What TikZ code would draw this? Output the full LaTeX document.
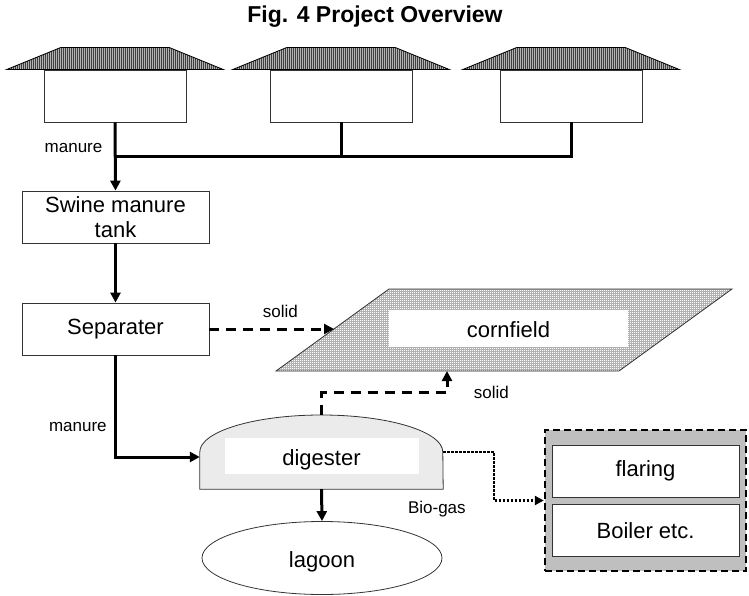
\documentclass[tikz,border=0pt]{standalone}
\usepackage{fontspec}
\setmainfont{Liberation Sans}
\usetikzlibrary{shapes.geometric, arrows.meta, positioning, patterns}

% fill patterns for the roofs and the field
\pgfdeclarepatternformonly{roofstripes}{\pgfqpoint{-0.1pt}{-0.1pt}}{\pgfqpoint{2.1pt}{2.1pt}}{\pgfqpoint{2pt}{2pt}}%
{\pgfsetlinewidth{1pt}\pgfpathmoveto{\pgfqpoint{1pt}{-0.1pt}}\pgfpathlineto{\pgfqpoint{1pt}{2.1pt}}\pgfusepath{stroke}}
\pgfdeclarepatternformonly{fieldgrid}{\pgfqpoint{-0.1pt}{-0.1pt}}{\pgfqpoint{2.1pt}{2.1pt}}{\pgfqpoint{2pt}{2pt}}%
{\pgfsetlinewidth{0.3pt}\pgfpathmoveto{\pgfqpoint{0pt}{1pt}}\pgfpathlineto{\pgfqpoint{2pt}{1pt}}%
\pgfpathmoveto{\pgfqpoint{1pt}{0pt}}\pgfpathlineto{\pgfqpoint{1pt}{2pt}}\pgfusepath{stroke}}

\tikzset{
    heading/.style = {font=\fontsize{23}{26}\selectfont\bfseries},
    house/.style = {rectangle, draw=black!80, fill=white, line width=0.8pt, minimum width=142pt, minimum height=52pt},
    roof/.style = {draw=black, line width=0.8pt, preaction={fill=gray!60}, pattern=roofstripes, pattern color=black!75},
    process/.style = {rectangle, draw=black!80, fill=white, line width=0.8pt, minimum width=187pt, minimum height=52pt, align=center, font=\fontsize{22}{25}\selectfont},
    field/.style = {draw=black!80, line width=0.8pt, preaction={fill=white}, pattern=fieldgrid, pattern color=gray!60},
    fieldlabel/.style = {rectangle, fill=white, minimum width=239pt, minimum height=37pt, text height=19pt, text depth=0pt, font=\fontsize{22}{25}\selectfont},
    dome/.style = {draw=black!80, line width=0.8pt, fill=gray!16},
    pond/.style = {ellipse, draw=black!80, line width=0.8pt, minimum width=240pt, minimum height=73pt, inner sep=0pt, text height=19pt, text depth=0pt, font=\fontsize{22}{25}\selectfont},
    gasbox/.style = {rectangle, fill=gray!50, draw=black, line width=2.5pt, dash pattern=on 7pt off 4pt, minimum width=201pt, minimum height=141pt},
    usebox/.style = {rectangle, draw=black!80, fill=white, line width=0.8pt, minimum width=187pt, minimum height=52pt, font=\fontsize{22}{25}\selectfont},
    flowlabel/.style = {font=\fontsize{17}{20}\selectfont},
    pipe/.style = {line width=3pt},
    flow/.style = {line width=3pt, -{Triangle[length=10pt,width=10pt]}},
    solidflow/.style = {flow, dash pattern=on 10pt off 7pt},
    gasflow/.style = {line width=2.5pt, dash pattern=on 2.5pt off 1.5pt, -{Triangle[length=9pt,width=9pt]}}
}

\begin{document}
\begin{tikzpicture}[x=1pt, y=-1pt]
\useasboundingbox (0,0) rectangle (749,596);

\node (title) [heading] at (375,17) {Fig. 4 Project Overview};

% Pig houses
\node (house1) [house] at (115,96) {};
\node (house2) [house] at (341,96) {};
\node (house3) [house] at (571,96) {};
\draw [roof] ([xshift=-108.5pt]house1.north) -- ++(54,-22) -- ++(109,0) -- ++(54,22) -- cycle;
\draw [roof] ([xshift=-108.5pt]house2.north) -- ++(54,-22) -- ++(109,0) -- ++(54,22) -- cycle;
\draw [roof] ([xshift=-108.5pt]house3.north) -- ++(54,-22) -- ++(109,0) -- ++(54,22) -- cycle;
\coordinate (bus) at (115,157);

% Treatment chain
\node (tank) [process] at (115.5,217) {Swine manure\\tank};
\node (sep) [process] at (115.5,329) {Separater};

% Cornfield
\coordinate (fieldin) at (334,329);
\coordinate (fieldout) at (447,371);
\draw [field] (276,371) -- (389,289) -- (732,289) -- (619,371) -- cycle;
\node (field) [fieldlabel] at (508.5,328) {cornfield};

% Digester and lagoon
\node (digester) [minimum width=243pt, minimum height=74pt, inner sep=0pt] at (321.5,452) {};
\draw [dome] (digester.south west) -- (digester.west) arc[start angle=180, end angle=0, x radius=121.5pt, y radius=37pt] -- (digester.south east) -- cycle;
\node (digtext) [fieldlabel, minimum width=194pt, minimum height=36pt] at ([yshift=-4pt]digester.center) {digester};
\node (lagoon) [pond] at (322,558) {lagoon};

% Gas use
\node (gasuse) [gasbox] at (645.5,500.5) {};
\node (flaring) [usebox] at (645.5,471) {flaring};
\node (boiler) [usebox, below=7pt of flaring] {Boiler etc.};

% Connections - manure
\draw [flow] (house1.south) -- node[flowlabel, left=8pt, pos=0.38] {manure} (tank.north);
\draw [pipe] (house3.south) |- (bus);
\draw [pipe] (house2.south) -- (house2.south |- bus);
\draw [flow] (tank.south) -- (sep.north);
\draw [flow] (sep.south) |- node[flowlabel, left=4pt, pos=0.35] {manure} ([yshift=-5pt]digester.west);
\draw [flow] (digester.south) -- (lagoon.north);

% Connections - solids
\draw [solidflow] (sep.east) -- node[flowlabel, above=7pt, pos=0.57] {solid} (fieldin);
\draw [solidflow] (digester.north) -- ++(0,-22) -| node[flowlabel, right=22pt, pos=0.5] {solid} (fieldout);

% Connections - gas
\draw [gasflow] (digester.east) -- ++(51,0) |- (gasuse.west);
\node (biogas) [flowlabel, anchor=north east] at ([shift={(26,8)}]digester.south east) {Bio-gas};

\end{tikzpicture}
\end{document}
